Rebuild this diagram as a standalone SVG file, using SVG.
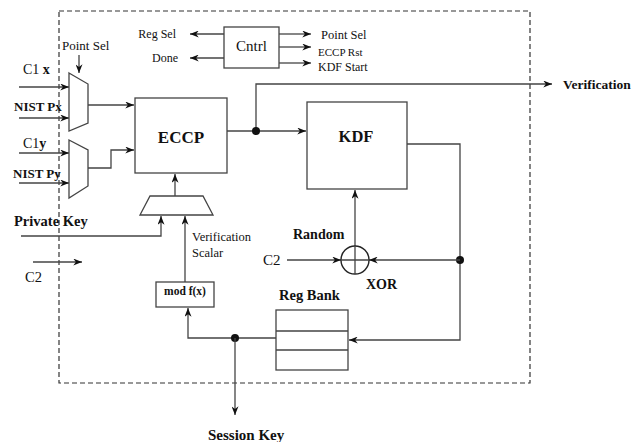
<svg xmlns="http://www.w3.org/2000/svg" width="634" height="442" viewBox="0 0 634 442">
<style>
.ln{fill:none;stroke:#444;stroke-width:1.3}
.bx{fill:#fff;stroke:#444;stroke-width:1.3}
.ar{marker-end:url(#ah)}
.t{font-family:'Liberation Serif','Times New Roman','DejaVu Serif',Times,serif;fill:#111}
.b{font-weight:bold}
</style>
<defs>
<marker id="ah" viewBox="0 0 10 8" refX="10" refY="4" markerWidth="10" markerHeight="7" orient="auto" markerUnits="userSpaceOnUse">
<path d="M0,0 L10,4 L0,8 L3,4 z" fill="#111"/>
</marker>
</defs>
<rect x="59" y="11" width="471" height="372" fill="none" stroke="#333" stroke-width="1.2" stroke-dasharray="5 3"/>

<g id="connectors">
<path class="ln ar" d="M79,55 V73"/>
<path class="ln ar" d="M19,87 H69"/>
<path class="ln ar" d="M19,118 H69"/>
<path class="ln ar" d="M19,153 H69"/>
<path class="ln ar" d="M19,183 H69"/>
<path class="ln ar" d="M88,105 H134"/>
<path class="ln ar" d="M88,168 H111 V150 H134"/>
<path class="ln ar" d="M227,131 H306"/>
<path class="ln ar" d="M256,131 V84 H552"/>
<circle cx="256" cy="131" r="4" fill="#111"/>
<path class="ln ar" d="M405,144 H460 V340 H349"/>
<circle cx="460" cy="260" r="4" fill="#111"/>
<path class="ln ar" d="M460,260 H369"/>
<path class="ln ar" d="M287,260 H341"/>
<path class="ln ar" d="M355,246 V190"/>
<path class="ln ar" d="M276,338 H188 V308"/>
<circle cx="235" cy="338" r="4" fill="#111"/>
<path class="ln ar" d="M235,338 V415"/>
<path class="ln ar" d="M185,282 V216"/>
<path class="ln ar" d="M21,236 H161 V216"/>
<path class="ln ar" d="M175,196 V174"/>
<path class="ln ar" d="M33,262 H82"/>
<path class="ln ar" d="M224,34 H190"/>
<path class="ln ar" d="M224,58 H190"/>
<path class="ln ar" d="M279,34 H311"/>
<path class="ln ar" d="M279,47 H311"/>
<path class="ln ar" d="M279,63 H311"/>
</g>

<g id="cntrl">
<rect class="bx" x="224" y="27" width="55" height="41"/>
<text class="t" x="251.5" y="51" font-size="15" text-anchor="middle">Cntrl</text>
</g>
<g id="mux1"><polygon class="bx" points="69,73 88,84 88,123 69,131"/></g>
<g id="mux2"><polygon class="bx" points="69,140 88,150 88,186 69,198"/></g>
<g id="mux3"><polygon class="bx" points="150,196 203,196 213,215 140,215"/></g>
<g id="eccp">
<rect class="bx" x="135" y="98" width="92" height="75"/>
<text class="t b" x="181" y="143" font-size="17" text-anchor="middle">ECCP</text>
</g>
<g id="kdf">
<rect class="bx" x="307" y="102" width="100" height="87"/>
<text class="t b" x="356" y="142" font-size="16.5" text-anchor="middle">KDF</text>
</g>
<g id="xor">
<circle cx="355" cy="260" r="14" fill="none" stroke="#222" stroke-width="1.4"/>
<path class="ln" d="M355,246 V274 M341,260 H369"/>
</g>
<g id="modf">
<rect class="bx" x="156" y="282" width="58" height="25"/>
<text class="t b" x="185" y="295" font-size="11.5" text-anchor="middle">mod f(x)</text>
</g>
<g id="regbank">
<rect class="bx" x="276" y="310" width="72" height="60"/>
<path class="ln" d="M276,331 H348 M276,350 H348"/>
</g>

<g id="labels">
<text class="t" x="62" y="50" font-size="13">Point Sel</text>
<text class="t" x="23" y="74" font-size="14">C1 <tspan class="b">x</tspan></text>
<text class="t b" x="14" y="111" font-size="13">NIST Px</text>
<text class="t" x="23" y="148" font-size="14">C1<tspan class="b">y</tspan></text>
<text class="t b" x="13" y="178" font-size="13">NIST Py</text>
<text class="t" x="176" y="38" font-size="12" text-anchor="end">Reg Sel</text>
<text class="t" x="178" y="62" font-size="12" text-anchor="end">Done</text>
<text class="t" x="321" y="39" font-size="12.5">Point Sel</text>
<text class="t" x="318" y="56" font-size="11">ECCP Rst</text>
<text class="t" x="318" y="71" font-size="12">KDF Start</text>
<text class="t b" x="563" y="89" font-size="13.5">Verification</text>
<text class="t b" x="14" y="226" font-size="14.5">Private Key</text>
<text class="t" x="192" y="241" font-size="12.5">Verification</text>
<text class="t" x="192" y="257" font-size="12.5">Scalar</text>
<text class="t" x="25" y="282" font-size="14.5">C2</text>
<text class="t" x="263" y="265" font-size="15">C2</text>
<text class="t b" x="293" y="239" font-size="14">Random</text>
<text class="t b" x="366" y="289" font-size="14">XOR</text>
<text class="t b" x="279" y="300" font-size="14.5">Reg Bank</text>
<text class="t b" x="208" y="440" font-size="15">Session Key</text>
</g>
</svg>
